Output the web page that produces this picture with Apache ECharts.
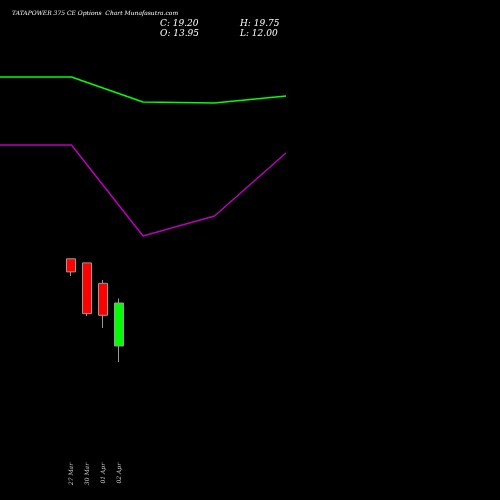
<!DOCTYPE html>
<html><head><meta charset="utf-8">
<script src="https://cdn.jsdelivr.net/npm/echarts@6/dist/echarts.min.js"></script>
<style>body{margin:0;background:#000}#c{width:500px;height:500px}</style>
</head><body><div id="c"></div>
<script>
var dates = ['27 Mar', '30 Mar', '01 Apr', '02 Apr'];
// open, close, low, high
var candles = [[24.6, 23.0, 22.5, 24.6], [24.1, 17.9, 17.6, 24.1], [21.6, 17.7, 16.15, 22.0], [13.95, 19.2, 12.0, 19.75]];
var linePoints = ['a', 'b', 'c', 'd', 'e'];
var greenLine = [84.6, 84.6, 79.6, 79.4, 80.8];
var purpleLine = [71, 71, 52.8, 56.8, 69.4];

var chart = echarts.init(document.getElementById('c'));
var txt = {fontFamily: 'DejaVu Serif', fontStyle: 'italic', fill: '#fff'};
chart.setOption({
    backgroundColor: '#000',
    animation: false,
    graphic: [
        {type: 'text', left: 12, top: 10, style: Object.assign({text: 'TATAPOWER 375 CE Options  Chart Munafasutra.com', fontSize: 6}, txt)},
        {type: 'text', left: 160, top: 19, style: Object.assign({text: 'C: 19.20\nO: 13.95', fontSize: 9, lineHeight: 10}, txt)},
        {type: 'text', left: 240, top: 19, style: Object.assign({text: 'H: 19.75\nL: 12.00', fontSize: 9, lineHeight: 10}, txt)}
    ],
    grid: [
        {left: 63, top: 0, width: 64, height: 455},
        {left: 0, top: 0, width: 286, height: 500}
    ],
    xAxis: [
        {type: 'category', gridIndex: 0, data: dates, axisLine: {show: false}, axisTick: {show: false},
         axisLabel: {rotate: 90, color: '#ccc', fontSize: 6, fontFamily: 'DejaVu Serif', fontStyle: 'italic', margin: 8}},
        {type: 'category', gridIndex: 1, data: linePoints, boundaryGap: false, show: false}
    ],
    yAxis: [
        {type: 'value', gridIndex: 0, min: 0.64, max: 56.2, show: false, splitLine: {show: false}},
        {type: 'value', gridIndex: 1, min: 0, max: 100, show: false, splitLine: {show: false}}
    ],
    series: [
        {type: 'line', xAxisIndex: 1, yAxisIndex: 1, data: greenLine, symbol: 'none', lineStyle: {color: '#00ff00', width: 1.5}},
        {type: 'line', xAxisIndex: 1, yAxisIndex: 1, data: purpleLine, symbol: 'none', lineStyle: {color: '#bb00bb', width: 1.5}},
        {type: 'candlestick', xAxisIndex: 0, yAxisIndex: 0, data: candles, barWidth: 9,
         itemStyle: {color: '#00ff00', color0: '#ff0000', borderColor: '#999', borderColor0: '#999', borderWidth: 1}}
    ]
});
</script></body></html>
